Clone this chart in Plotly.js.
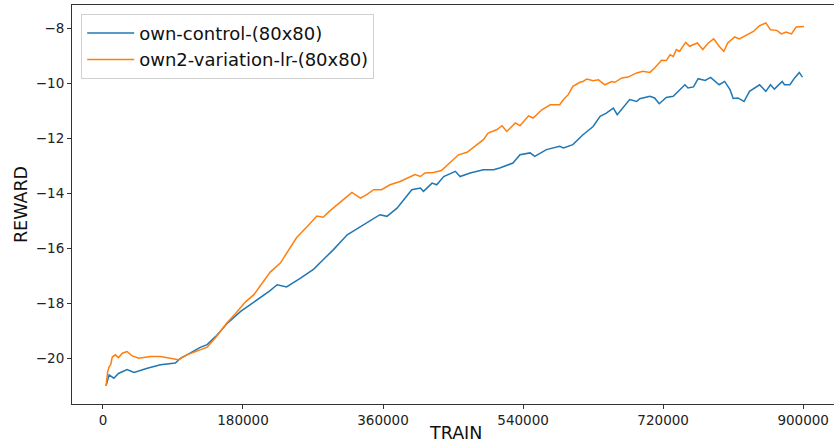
<!DOCTYPE html>
<html>
<head>
<meta charset="utf-8">
<script src="https://cdn.plot.ly/plotly-3.0.1.min.js"></script>
<style>
html,body{margin:0;padding:0;overflow:hidden;background:#fff;}
#chart{width:840px;height:448px;}
</style>
</head>
<body>
<div id="chart"></div>
<script>
// Series names
const seriesNames = ["own-control-(80x80)", "own2-variation-lr-(80x80)"];

// own-control-(80x80)
const controlX = [4000, 8000, 14000, 20000, 31000, 40000, 57000, 74000, 93000, 100000, 112000, 125000, 134000, 145000, 159000, 177000, 189000, 202000, 214000, 224000, 236000, 254000, 271000, 283000, 296000, 314000, 331000, 356000, 365000, 378000, 397000, 408000, 412000, 423000, 429000, 438000, 453000, 459000, 472000, 489000, 502000, 510000, 527000, 536000, 549000, 555000, 570000, 587000, 592000, 604000, 617000, 630000, 639000, 647000, 656000, 661000, 677000, 686000, 690000, 703000, 709000, 715000, 724000, 733000, 748000, 752000, 759000, 765000, 774000, 781000, 792000, 799000, 806000, 810000, 816000, 824000, 831000, 844000, 852000, 858000, 863000, 873000, 876000, 883000, 889000, 895000, 899000];
const controlY = [-21.0, -20.6, -20.72, -20.55, -20.41, -20.51, -20.36, -20.23, -20.17, -19.99, -19.81, -19.6, -19.5, -19.2, -18.75, -18.29, -18.05, -17.8, -17.55, -17.32, -17.4, -17.08, -16.75, -16.41, -16.05, -15.5, -15.2, -14.77, -14.83, -14.53, -13.86, -13.8, -13.92, -13.62, -13.68, -13.38, -13.19, -13.38, -13.25, -13.13, -13.13, -13.07, -12.89, -12.59, -12.52, -12.65, -12.40, -12.28, -12.34, -12.22, -11.86, -11.56, -11.19, -11.07, -10.89, -11.13, -10.58, -10.65, -10.55, -10.46, -10.52, -10.73, -10.5, -10.46, -10.04, -10.16, -10.12, -9.82, -9.88, -9.77, -10.04, -9.92, -10.22, -10.54, -10.52, -10.65, -10.28, -10.04, -10.28, -10.04, -10.20, -9.92, -10.04, -10.04, -9.79, -9.59, -9.76];

// own2-variation-lr-(80x80)
const variationX = [4000, 6000, 8000, 10000, 12000, 16000, 20000, 25000, 31000, 37000, 46000, 61000, 74000, 87000, 97000, 108000, 125000, 134000, 146000, 159000, 171000, 183000, 194000, 202000, 215000, 228000, 249000, 262000, 275000, 283000, 292000, 309000, 320000, 331000, 339000, 348000, 358000, 369000, 382000, 401000, 408000, 414000, 425000, 435000, 446000, 457000, 468000, 478000, 489000, 495000, 506000, 513000, 519000, 530000, 536000, 547000, 553000, 564000, 575000, 587000, 592000, 598000, 604000, 613000, 617000, 622000, 630000, 637000, 645000, 654000, 658000, 667000, 675000, 686000, 694000, 703000, 709000, 718000, 724000, 729000, 733000, 737000, 741000, 749000, 754000, 764000, 771000, 778000, 785000, 792000, 798000, 803000, 812000, 818000, 827000, 836000, 844000, 852000, 858000, 866000, 872000, 878000, 885000, 891000, 901000];
const variationY = [-21.0, -20.5, -20.3, -20.23, -19.95, -19.87, -19.97, -19.81, -19.75, -19.9, -19.99, -19.93, -19.93, -19.99, -20.05, -19.87, -19.69, -19.59, -19.2, -18.72, -18.35, -17.95, -17.68, -17.35, -16.86, -16.53, -15.6, -15.22, -14.82, -14.86, -14.62, -14.22, -13.96, -14.17, -14.04, -13.86, -13.86, -13.68, -13.56, -13.31, -13.38, -13.25, -13.23, -13.16, -12.89, -12.59, -12.50, -12.28, -12.04, -11.80, -11.68, -11.53, -11.74, -11.43, -11.53, -11.17, -11.25, -10.95, -10.77, -10.77, -10.58, -10.4, -10.1, -9.95, -9.92, -9.83, -9.89, -9.86, -10.04, -9.92, -9.95, -9.79, -9.76, -9.61, -9.55, -9.59, -9.43, -9.15, -9.16, -8.95, -9.01, -8.76, -8.83, -8.50, -8.64, -8.52, -8.76, -8.52, -8.37, -8.64, -8.83, -8.52, -8.30, -8.37, -8.25, -8.10, -7.89, -7.79, -8.04, -8.06, -8.19, -8.12, -8.19, -7.94, -7.92];

// Tick labels
const xTickVals = [0, 180000, 360000, 540000, 720000, 900000];
const xTickText = ["0", "180000", "360000", "540000", "720000", "900000"];
const yTickVals = [-20, -18, -16, -14, -12, -10, -8];
const yTickText = ["\u221220", "\u221218", "\u221216", "\u221214", "\u221212", "\u221210", "\u22128"];

const FONT = "DejaVu Sans, sans-serif";
const traces = [
  {x: controlX, y: controlY, name: seriesNames[0], type: "scatter", mode: "lines",
   line: {color: "#1f77b4", width: 1.5}},
  {x: variationX, y: variationY, name: seriesNames[1], type: "scatter", mode: "lines",
   line: {color: "#ff7f0e", width: 1.5}}
];

const layout = {
  width: 840, height: 448,
  margin: {l: 72, r: 2, t: 5, b: 44, pad: 0},
  paper_bgcolor: "#fff", plot_bgcolor: "#fff",
  font: {family: FONT, color: "#222"},
  showlegend: true,
  legend: {
    x: 0.012, y: 0.978, xanchor: "left", yanchor: "top",
    bgcolor: "rgba(255,255,255,0.8)", bordercolor: "#d0d0d0", borderwidth: 1,
    font: {family: FONT, size: 18, color: "#111"},
    itemwidth: 47,
    tracegroupgap: 0
  },
  xaxis: {
    range: [-39750, 944750], tickvals: xTickVals, ticktext: xTickText,
    showgrid: false, zeroline: false, showline: true, mirror: true,
    linecolor: "#333", linewidth: 1, ticks: "outside", ticklen: 4, tickcolor: "#333",
    tickfont: {family: FONT, size: 13.5, color: "#222"}
  },
  yaxis: {
    range: [-21.66, -7.137], tickvals: yTickVals, ticktext: yTickText,
    showgrid: false, zeroline: false, showline: true, mirror: true,
    linecolor: "#333", linewidth: 1, ticks: "outside", ticklen: 4, tickcolor: "#333",
    tickfont: {family: FONT, size: 13.5, color: "#222"},
    title: {text: "REWARD", font: {family: FONT, size: 17.5, color: "#111"}}
  },
  annotations: [{
    text: "TRAIN", xref: "paper", yref: "paper", x: 0.5, y: -0.0727,
    xanchor: "center", yanchor: "middle", showarrow: false,
    font: {family: FONT, size: 17.5, color: "#111"}
  }]
};

Plotly.newPlot("chart", traces, layout, {displayModeBar: false, staticPlot: true});
</script>
</body>
</html>
